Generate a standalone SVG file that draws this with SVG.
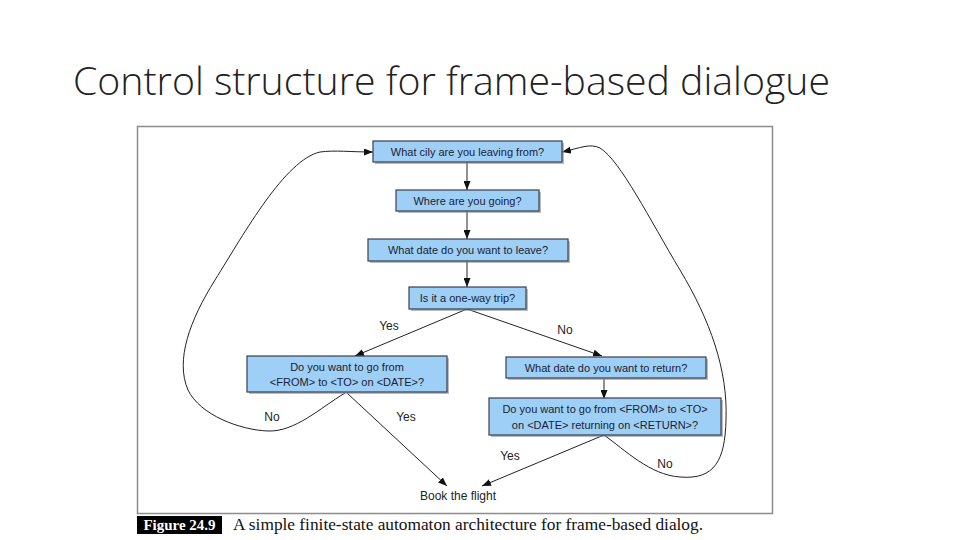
<svg xmlns="http://www.w3.org/2000/svg" width="960" height="540" viewBox="0 0 960 540">
<style>
.box{fill:#9ecff6;stroke:#3a3f4a;stroke-width:1.2}
.sh{fill:#8a8f96;opacity:0.6}
.t{font-family:"Liberation Sans",Arial,sans-serif;font-size:11px;fill:#1c2233;text-anchor:middle}
.lb{font-family:"Liberation Sans",Arial,sans-serif;font-size:12px;fill:#222;text-anchor:middle}
.c{fill:none;stroke:#222;stroke-width:1}
</style>
<defs>
<marker id="ah" markerUnits="userSpaceOnUse" markerWidth="9" markerHeight="7" refX="9" refY="3.5" orient="auto">
<path d="M0,0 L9,3.5 L0,7 z" fill="#111"/>
</marker>
</defs>
<rect width="960" height="540" fill="#fff"/>
<text x="73" y="95" font-family="'Open Sans','Liberation Sans',sans-serif" font-weight="300" font-size="38" fill="#222" textLength="757" lengthAdjust="spacingAndGlyphs">Control structure for frame-based dialogue</text>
<rect x="137.5" y="126.5" width="635" height="387" fill="#fff" stroke="#8c8c8c" stroke-width="1.5"/>
<g id="connectors">
<path class="c" d="M467,162 L467,190" marker-end="url(#ah)"/>
<path class="c" d="M467,211 L467,239" marker-end="url(#ah)"/>
<path class="c" d="M467,261 L467,287" marker-end="url(#ah)"/>
<path class="c" d="M467,309 L355,356" marker-end="url(#ah)"/>
<path class="c" d="M467,309 L602,356" marker-end="url(#ah)"/>
<path class="c" d="M604,379 L604,399" marker-end="url(#ah)"/>
<path class="c" d="M347,393 L447,486" marker-end="url(#ah)"/>
<path class="c" d="M604,435 L482,486" marker-end="url(#ah)"/>
<path class="c" d="M345,393 C320,408 295,432 268,431 C240,430 200,415 188,390 C175,360 190,320 215,280 C245,232 285,160 320,152 C335,150 350,152 373,152" marker-end="url(#ah)"/>
<path class="c" d="M604,435 C625,450 650,475 680,477 C715,480 725,460 726,420 C728,370 710,320 680,270 C650,220 620,160 600,148 C590,143 580,148 562,152" marker-end="url(#ah)"/>
<text class="lb" x="389" y="330">Yes</text>
<text class="lb" x="565" y="334">No</text>
<text class="lb" x="272" y="421">No</text>
<text class="lb" x="406" y="421">Yes</text>
<text class="lb" x="510" y="460">Yes</text>
<text class="lb" x="665" y="468">No</text>
</g>
<g id="n1"><rect class="sh" x="375" y="143" width="189" height="21"/><rect class="box" x="373" y="141" width="189" height="21"/><text class="t" x="467.5" y="155.5">What cily are you leaving from?</text></g>
<g id="n2"><rect class="sh" x="398" y="192" width="143" height="21"/><rect class="box" x="396" y="190" width="143" height="21"/><text class="t" x="467.5" y="204.5">Where are you going?</text></g>
<g id="n3"><rect class="sh" x="370" y="241" width="200" height="22"/><rect class="box" x="368" y="239" width="200" height="22"/><text class="t" x="468" y="254">What date do you want to leave?</text></g>
<g id="n4"><rect class="sh" x="411" y="289" width="117" height="22"/><rect class="box" x="409" y="287" width="117" height="22"/><text class="t" x="467.5" y="302">Is it a one-way trip?</text></g>
<g id="n5"><rect class="sh" x="249" y="358" width="200" height="36"/><rect class="box" x="247" y="356" width="200" height="36"/><text class="t" x="347" y="370.5">Do you want to go from</text><text class="t" x="347" y="386">&lt;FROM&gt; to &lt;TO&gt; on &lt;DATE&gt;?</text></g>
<g id="n6"><rect class="sh" x="508" y="359" width="200" height="21"/><rect class="box" x="506" y="357" width="200" height="21"/><text class="t" x="606" y="371.5">What date do you want to return?</text></g>
<g id="n7"><rect class="sh" x="491" y="400" width="232" height="37"/><rect class="box" x="489" y="398" width="232" height="37"/><text class="t" x="605" y="413">Do you want to go from &lt;FROM&gt; to &lt;TO&gt;</text><text class="t" x="605" y="428.5">on &lt;DATE&gt; returning on &lt;RETURN&gt;?</text></g>
<g id="n8"><text class="lb" x="458" y="500">Book the flight</text></g>
<rect x="137" y="516" width="85" height="18" fill="#000"/>
<text x="179.5" y="530" font-family="'Liberation Serif','Times New Roman',serif" font-weight="bold" font-size="15" fill="#fff" text-anchor="middle">Figure 24.9</text>
<text x="233" y="530" font-family="'Liberation Serif','Times New Roman',serif" font-size="16" fill="#111" textLength="470" lengthAdjust="spacingAndGlyphs">A simple finite-state automaton architecture for frame-based dialog.</text>
</svg>
